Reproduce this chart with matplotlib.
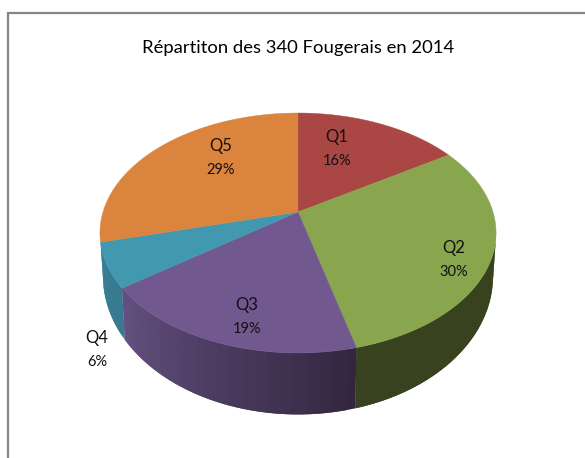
import numpy as np
import matplotlib
matplotlib.use("Agg")
import matplotlib.pyplot as plt
from matplotlib.patches import Polygon

categories = ["Q1", "Q2", "Q3", "Q4", "Q5"]
shares = [16, 30, 19, 6, 29]
percent_labels = ["16%", "30%", "19%", "6%", "29%"]
title = "Répartiton des 340 Fougerais en 2014"
top_colors = ["#AA4643", "#89A54E", "#71588F", "#4198AF", "#DB843D"]
side_left = ["#6b2d2a", "#39421F", "#645080", "#3A7F96", "#8a5426"]
side_right = ["#6b2d2a", "#39421F", "#332740", "#38798F", "#8a5426"]
label_pos = [(337, 149), (454, 260), (247, 317), (97, 350), (221, 158)]

plt.rcParams["font.family"] = ["Lato", "DejaVu Sans"]
fig = plt.figure(figsize=(5.85, 4.58), dpi=100)
ax = fig.add_axes([0, 0, 1, 1])
ax.set_xlim(0, 585)
ax.set_ylim(458, 0)
ax.axis("off")


def project(t, R, S, cy, k=0.175, cx=298):
    x, y = np.sin(t), np.cos(t)
    w = 1 + k * y
    return cx + R * x / w, cy - S * y / w


def top(t):
    return project(t, 195, 116.3, 212)


def bottom(t):
    return project(t, 192, 134, 252)


edges = np.radians(np.concatenate([[0], np.cumsum(shares)]) * 3.6)
vis_lo, vis_hi = np.radians(100), edges[4]

# side walls: each strip overlaps the next, which is painted over it
for i in range(len(shares)):
    a, b = max(edges[i], vis_lo), min(edges[i + 1], vis_hi)
    if b <= a:
        continue
    steps = max(2, int(np.degrees(b - a) / 2))
    ts = np.linspace(a, b, steps + 1)
    c0 = np.array(matplotlib.colors.to_rgb(side_right[i]))
    c1 = np.array(matplotlib.colors.to_rgb(side_left[i]))
    for j in range(steps):
        f = j / max(1, steps - 1)
        col = c0 + (c1 - c0) * f
        seg = np.linspace(ts[j], ts[min(j + 2, steps)], 5)
        xt, yt = top(seg)
        xb, yb = bottom(seg)
        pts = np.column_stack([np.r_[xt, xb[::-1]], np.r_[yt, yb[::-1]]])
        ax.add_patch(Polygon(pts, closed=True, facecolor=col, edgecolor="none", zorder=2))

# top faces
for i in range(len(shares)):
    ts = np.linspace(edges[i], edges[i + 1], 120)
    xt, yt = top(ts)
    pts = np.column_stack([np.r_[298, xt], np.r_[212, yt]])
    ax.add_patch(Polygon(pts, closed=True, facecolor=top_colors[i],
                         edgecolor=top_colors[i], lw=0.3, zorder=3))

# labels
for cat, pct, (lx, ly) in zip(categories, percent_labels, label_pos):
    ax.text(lx, ly - 12, cat, ha="center", va="center", fontsize=12, color="#111111", zorder=5)
    ax.text(lx, ly + 12, pct, ha="center", va="center", fontsize=10.5, color="#111111", zorder=5)

ax.text(298, 48, title, ha="center", va="center", fontsize=13.3, color="#000000", zorder=5)

# chart frame cut by the picture edges
ax.plot([8, 8, 585], [458, 13, 13], color="#868686", lw=1.6, solid_joinstyle="miter", zorder=1)

fig.savefig("out.png", dpi=100)
